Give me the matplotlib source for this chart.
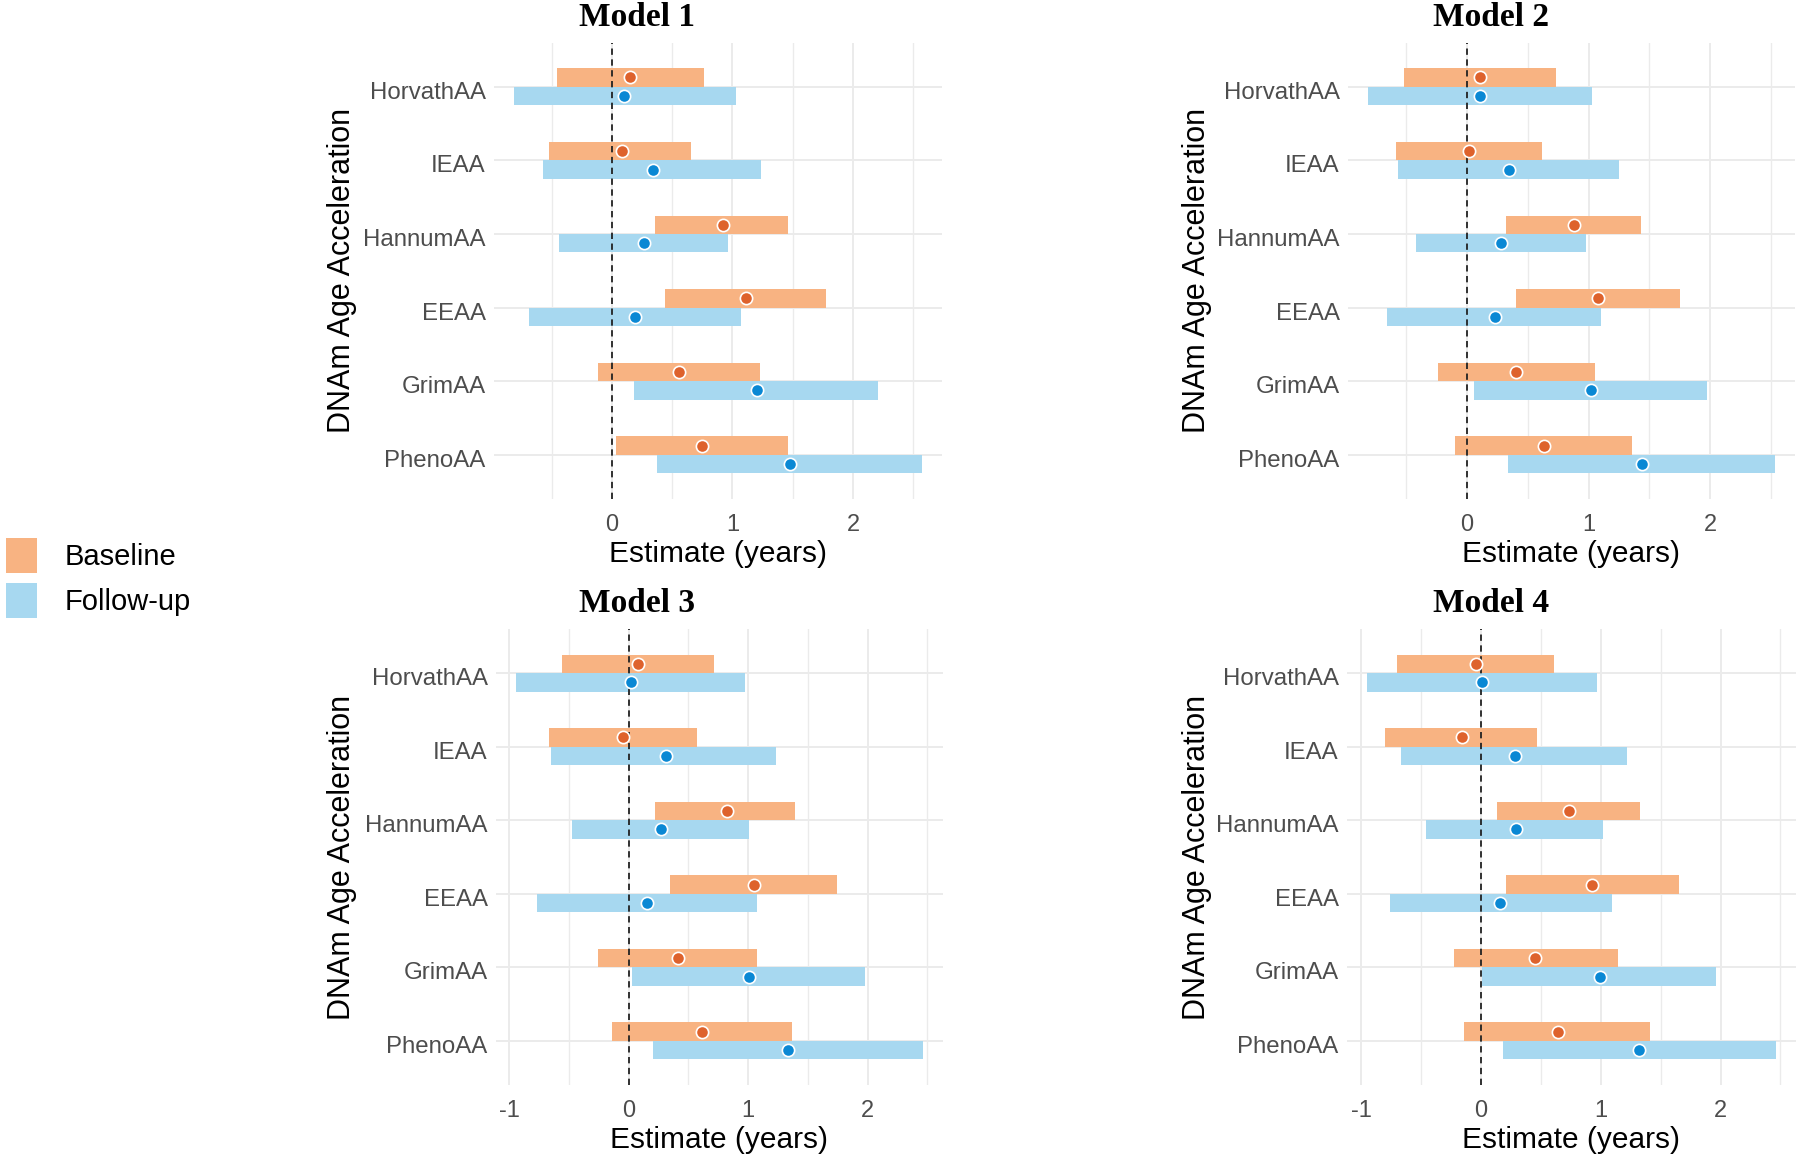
import matplotlib
matplotlib.use("Agg")
import matplotlib.pyplot as plt
from matplotlib.patches import Patch
from matplotlib.ticker import MultipleLocator
from matplotlib.transforms import ScaledTranslation

clocks = ["HorvathAA", "IEAA", "HannumAA", "EEAA", "GrimAA", "PhenoAA"]

# baseline / follow-up: estimate, lower CI, upper CI
m1_base_est = [0.15, 0.08, 0.92, 1.11, 0.56, 0.75]
m1_base_lo = [-0.46, -0.52, 0.36, 0.44, -0.12, 0.03]
m1_base_hi = [0.76, 0.66, 1.46, 1.78, 1.23, 1.46]
m1_fu_est = [0.10, 0.34, 0.27, 0.19, 1.20, 1.48]
m1_fu_lo = [-0.81, -0.57, -0.44, -0.69, 0.18, 0.37]
m1_fu_hi = [1.03, 1.24, 0.96, 1.07, 2.21, 2.57]

m2_base_est = [0.11, 0.02, 0.88, 1.08, 0.40, 0.63]
m2_base_lo = [-0.52, -0.58, 0.32, 0.40, -0.24, -0.10]
m2_base_hi = [0.73, 0.62, 1.43, 1.75, 1.05, 1.36]
m2_fu_est = [0.11, 0.35, 0.28, 0.23, 1.02, 1.44]
m2_fu_lo = [-0.81, -0.57, -0.42, -0.66, 0.06, 0.34]
m2_fu_hi = [1.03, 1.25, 0.98, 1.10, 1.97, 2.53]

m3_base_est = [0.08, -0.05, 0.82, 1.05, 0.41, 0.61]
m3_base_lo = [-0.56, -0.67, 0.22, 0.35, -0.26, -0.14]
m3_base_hi = [0.71, 0.57, 1.39, 1.74, 1.07, 1.37]
m3_fu_est = [0.02, 0.31, 0.27, 0.15, 1.01, 1.33]
m3_fu_lo = [-0.94, -0.65, -0.47, -0.77, 0.03, 0.20]
m3_fu_hi = [0.97, 1.23, 1.01, 1.07, 1.98, 2.46]

m4_base_est = [-0.04, -0.16, 0.73, 0.93, 0.45, 0.64]
m4_base_lo = [-0.70, -0.80, 0.13, 0.21, -0.23, -0.14]
m4_base_hi = [0.61, 0.47, 1.33, 1.65, 1.14, 1.41]
m4_fu_est = [0.01, 0.28, 0.29, 0.16, 0.99, 1.32]
m4_fu_lo = [-0.95, -0.67, -0.46, -0.76, 0.01, 0.18]
m4_fu_hi = [0.97, 1.22, 1.02, 1.09, 1.96, 2.46]

models = [
    ("Model 1", m1_base_est, m1_base_lo, m1_base_hi, m1_fu_est, m1_fu_lo, m1_fu_hi),
    ("Model 2", m2_base_est, m2_base_lo, m2_base_hi, m2_fu_est, m2_fu_lo, m2_fu_hi),
    ("Model 3", m3_base_est, m3_base_lo, m3_base_hi, m3_fu_est, m3_fu_lo, m3_fu_hi),
    ("Model 4", m4_base_est, m4_base_lo, m4_base_hi, m4_fu_est, m4_fu_lo, m4_fu_hi),
]

base_fill = "#F8B382"
base_pt = "#DE622C"
fu_fill = "#A7D8F0"
fu_pt = "#0A88D4"
grid_col = "#EBEBEB"

plt.rcParams["font.family"] = ["Liberation Sans", "DejaVu Sans"]
plt.rcParams["axes.unicode_minus"] = False

W, Hpx = 1800, 1157
fig = plt.figure(figsize=(18, 11.57), dpi=100)

# panel boxes in pixels: left, top, right, bottom
panels = [(494, 42.5, 942, 499), (1348, 42.5, 1795, 499),
          (496, 629, 943, 1085), (1347, 629, 1796, 1085)]
title_xy = [(637, 18), (1491, 18), (637, 603), (1491, 603)]
ylab_x = [342, 1197, 342, 1197]

BH = 0.25
for k, (name, b_est, b_lo, b_hi, f_est, f_lo, f_hi) in enumerate(models):
    l, t, r, b = panels[k]
    ax = fig.add_axes([l / W, 1 - b / Hpx, (r - l) / W, (b - t) / Hpx])
    pos = list(range(len(clocks)))
    b_y = [p - BH / 2 for p in pos]
    f_y = [p + BH / 2 for p in pos]
    ax.barh(b_y, [h - lo for lo, h in zip(b_lo, b_hi)], left=b_lo, height=BH,
            color=base_fill, zorder=2)
    ax.barh(f_y, [h - lo for lo, h in zip(f_lo, f_hi)], left=f_lo, height=BH,
            color=fu_fill, zorder=2)
    ax.scatter(b_est, b_y, s=78, color=base_pt, edgecolor="white", linewidth=1.2, zorder=4)
    ax.scatter(f_est, f_y, s=78, color=fu_pt, edgecolor="white", linewidth=1.2, zorder=4)
    ax.axvline(0, color="#222222", linestyle=(0, (3.5, 2.5)), linewidth=1.3, zorder=3)

    # ggplot-like 5% expansion
    lo = min(b_lo + f_lo)
    hi = max(b_hi + f_hi)
    pad = 0.05 * (hi - lo)
    ax.set_xlim(lo - pad, hi + pad)
    ax.set_ylim(len(clocks) - 0.4, -0.6)
    ax.set_yticks(pos)
    ax.set_yticklabels(clocks)
    ax.xaxis.set_major_locator(MultipleLocator(1))
    ax.xaxis.set_minor_locator(MultipleLocator(0.5))
    ax.grid(True, which="major", color=grid_col, linewidth=1.4, zorder=0)
    ax.grid(True, which="minor", axis="x", color=grid_col, linewidth=1.0, zorder=0)
    ax.set_axisbelow(True)
    for s in ax.spines.values():
        s.set_visible(False)
    ax.tick_params(axis="both", which="both", length=0, colors="#4D4D4D")
    ax.tick_params(axis="x", labelsize=17, pad=11)
    ax.tick_params(axis="y", labelsize=17.3, pad=6)
    # nudge category labels slightly below the grid line, like the original
    shift = ScaledTranslation(0, -2.5 / 72, fig.dpi_scale_trans)
    for lab in ax.get_yticklabels():
        lab.set_transform(lab.get_transform() + shift)
    ax.set_xlabel("Estimate (years)", fontsize=21.5, color="black", labelpad=3)

    fig.text(ylab_x[k] / W, 1 - (t + b) / 2 / Hpx, "DNAm Age Acceleration",
             rotation=90, ha="center", va="center", fontsize=22)
    tx, ty = title_xy[k]
    fig.text(tx / W, 1 - ty / Hpx, name, ha="center", va="center",
             fontsize=24, fontweight="bold", family="Liberation Serif")

handles = [Patch(facecolor=base_fill, edgecolor="none"),
           Patch(facecolor=fu_fill, edgecolor="none")]
fig.legend(handles, ["Baseline", "Follow-up"], loc="center left",
           bbox_to_anchor=(6 / W, 1 - 578 / Hpx), frameon=False, fontsize=21,
           handlelength=1.06, handleheight=1.44, handletextpad=0.96,
           labelspacing=0.37, borderaxespad=0, borderpad=0)

fig.savefig("out.png", dpi=100, facecolor="white")
